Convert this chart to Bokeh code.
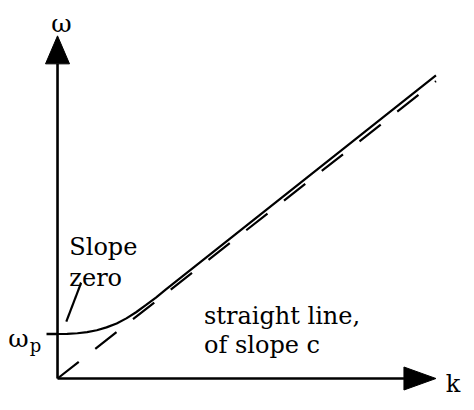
from bokeh.plotting import figure
from bokeh.models import ColumnDataSource
from bokeh.core.properties import value
from bokeh.embed import file_html
from bokeh.resources import INLINE

# ---- data (units: omega_p = 1) ----
curve_k = [0.0, 0.21, 0.43, 0.64, 0.85, 1.06, 1.28, 1.49, 1.70, 1.91, 2.13, 2.34, 8.19]
curve_w = [1.0, 1.004, 1.017, 1.043, 1.085, 1.149, 1.238, 1.351, 1.489, 1.649, 1.819, 1.996, 6.81]
asym_k = [0.0, 8.19]
asym_w = [0.0, 6.68]
omega_p = 1.0
k_axis_end = 8.19
w_axis_end = 7.70

# ---- geometry (pixels per unit) ----
W, H = 466, 394
SX = W / 474.0
PX_X = 47.0 * SX
PX_Y = 44.5
x0_px, y0_px = 58 * SX, 16  # origin inside figure
FONT = value("DejaVu Serif")

p = figure(width=W, height=H, output_backend="svg", toolbar_location=None,
           x_range=(-x0_px / PX_X, (W - x0_px) / PX_X),
           y_range=(-y0_px / PX_Y, (H - y0_px) / PX_Y),
           min_border=0, min_border_left=0, min_border_right=0,
           min_border_top=0, min_border_bottom=0)
p.axis.visible = False
p.grid.visible = False
p.outline_line_color = None
p.background_fill_color = "white"
p.border_fill_color = "white"

AX_LW = 2.6
LW = 2.2
y_head_len, y_head_half = 28, 12
x_head_len, x_head_half = 32, 11.5

# axes
p.line([0, 0], [0, w_axis_end - y_head_len / PX_Y], line_color="black", line_width=AX_LW)
p.line([0, k_axis_end - x_head_len / PX_X], [0, 0], line_color="black", line_width=AX_LW)
p.patch([0, -y_head_half / PX_X, y_head_half / PX_X],
        [w_axis_end, w_axis_end - y_head_len / PX_Y, w_axis_end - y_head_len / PX_Y],
        fill_color="black", line_color="black", line_width=1)
p.patch([k_axis_end, k_axis_end - x_head_len / PX_X, k_axis_end - x_head_len / PX_X],
        [0, x_head_half / PX_Y, -x_head_half / PX_Y],
        fill_color="black", line_color="black", line_width=1)

# tick at omega_p
p.line([-11 / PX_X, 0], [omega_p, omega_p], line_color="black", line_width=AX_LW)

# curves
p.line(curve_k, curve_w, line_color="black", line_width=LW)
p.line(asym_k, asym_w, line_color="black", line_width=LW, line_dash="27 21")

# leader line for "Slope zero"
p.line([0.51, 0.19], [2.149, 1.277], line_color="black", line_width=LW)

def txt(x, y, s, size="24px", align="left"):
    src = ColumnDataSource(dict(x=[x], y=[y], t=[s]))
    p.text(x="x", y="y", text="t", source=src, text_font=FONT,
           text_font_size=value(size), text_align=align,
           text_baseline="alphabetic", text_color="black")

txt(0.085, 7.98, "ω", size="25px", align="center")
txt(8.40, -0.13, "k")
txt(-1.064, 0.894, "ω", size="25px")
txt(-0.60, 0.745, "p", size="18px")
txt(0.255, 2.96, "Slope")
txt(0.255, 2.25, "zero")
txt(3.17, 1.404, "straight line,")
txt(3.17, 0.745, "of slope c")

open("out.html", "w").write(file_html(p, INLINE))
